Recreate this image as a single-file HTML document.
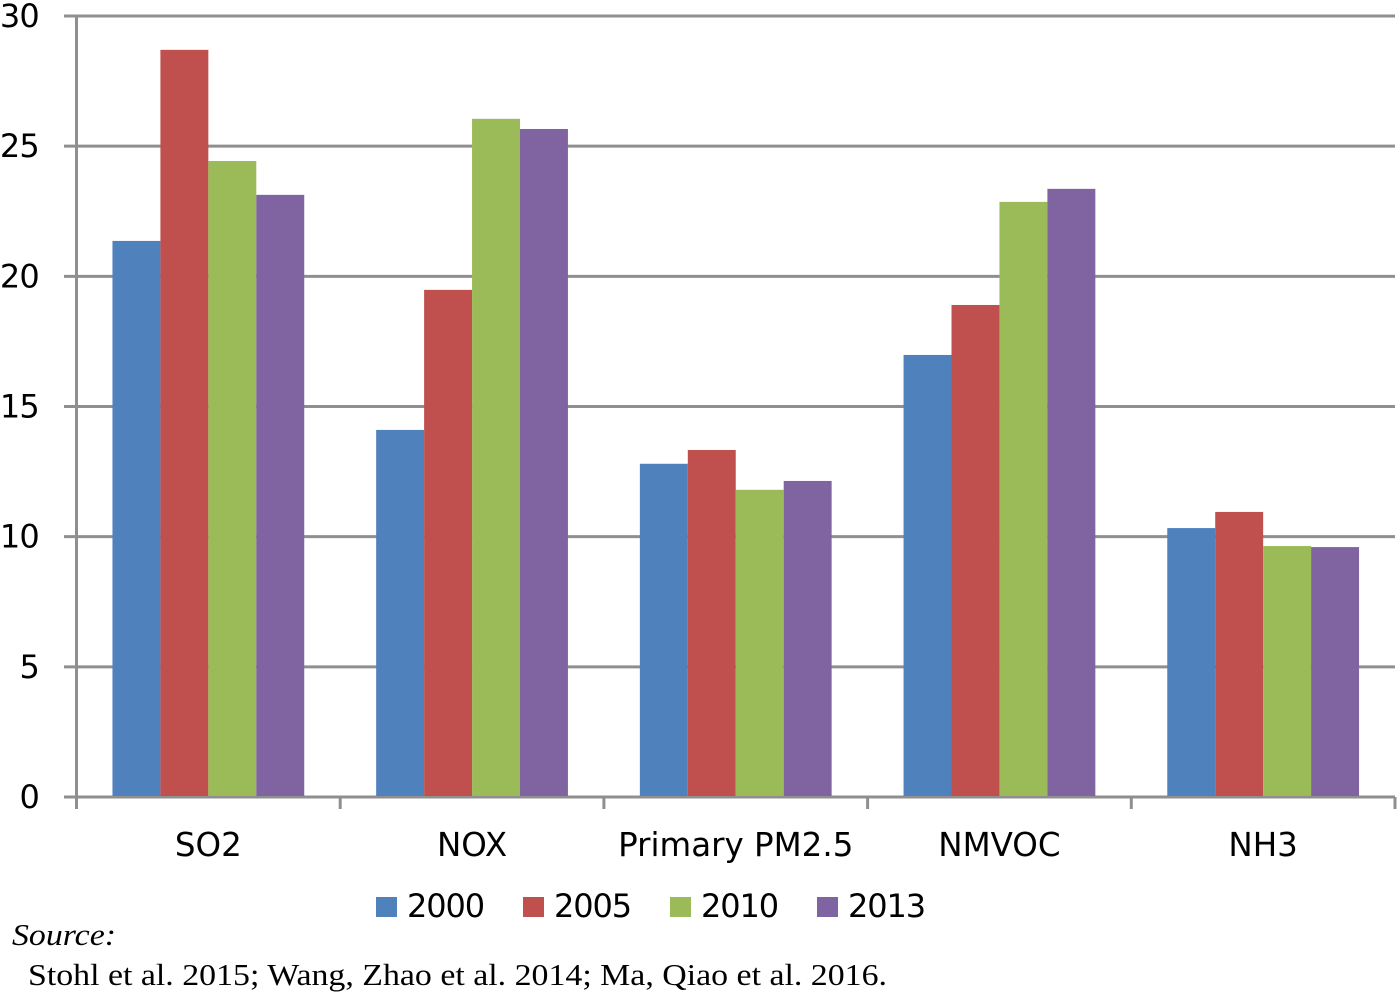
<!DOCTYPE html>
<html lang="en">
<head>
<meta charset="utf-8">
<title>Emissions by pollutant</title>
<style>
html,body{margin:0;padding:0;background:#fff;width:1400px;height:996px;overflow:hidden}
svg{display:block;position:absolute;left:0;top:0}
text{font-family:"DejaVu Sans","Liberation Sans",sans-serif;fill:#000}
.src{font-family:"Liberation Serif",serif;font-size:31px}
</style>
</head>
<body>
<svg id="chart" width="1400" height="996" viewBox="0 0 1400 996" xmlns="http://www.w3.org/2000/svg">
  <text class="src" x="12" y="945" font-style="italic" textLength="104" lengthAdjust="spacingAndGlyphs" style="font-family:'Liberation Serif',serif">Source:</text>
  <text class="src" x="28" y="985" textLength="859" lengthAdjust="spacingAndGlyphs" style="font-family:'Liberation Serif',serif">Stohl et al. 2015; Wang, Zhao et al. 2014; Ma, Qiao et al. 2016.</text>
</svg>
<script>
var categories = ["SO2", "NOX", "Primary PM2.5", "NMVOC", "NH3"];
var seriesNames = ["2000", "2005", "2010", "2013"];
var values2000 = [21.36, 14.1, 12.8, 16.98, 10.33];
var values2005 = [28.7, 19.48, 13.33, 18.9, 10.95];
var values2010 = [24.43, 26.05, 11.8, 22.86, 9.64];
var values2013 = [23.13, 25.66, 12.14, 23.36, 9.6];
var yTicks = [0, 5, 10, 15, 20, 25, 30];

var seriesValues = [values2000, values2005, values2010, values2013];
var colors = ["#4f81bd", "#c0504d", "#9bbb59", "#8064a2"];
var svg = document.getElementById("chart");
var NS = "http://www.w3.org/2000/svg";
var plotLeft = 76.5, plotRight = 1395, plotTop = 16, plotBottom = 797;
var yMax = yTicks[yTicks.length - 1];

function yScale(v) { return plotBottom - (v / yMax) * (plotBottom - plotTop); }
function catStart(i) { return plotLeft + i * (plotRight - plotLeft) / categories.length; }
function catWidth() { return (plotRight - plotLeft) / categories.length; }
function barWidth() { return catWidth() / (seriesNames.length + 1.5); }
function barX(c, s) { return catStart(c) + barWidth() * 0.75 + s * barWidth(); }

function make(tag, attrs, parent) {
  var el = document.createElementNS(NS, tag);
  for (var k in attrs) el.setAttribute(k, attrs[k]);
  (parent || svg).appendChild(el);
  return el;
}
var grey = "#8f8f8f";

yTicks.forEach(function (t) {
  var line = make("line", {x1: 64, x2: plotRight, y1: yScale(t), y2: yScale(t), stroke: grey, "stroke-width": 3});
  
  
  var label = make("text", {x: 39, y: yScale(t) + 11, "text-anchor": "end", "font-size": 32, "letter-spacing": -0.8});
  label.textContent = String(t);
  
  
});

var yAxis = make("line", {x1: plotLeft, x2: plotLeft, y1: plotTop, y2: plotBottom + 12, stroke: grey, "stroke-width": 3});



for (var i = 1; i <= categories.length; i++) {
  var tick = make("line", {x1: catStart(i), x2: catStart(i), y1: plotBottom, y2: plotBottom + 12, stroke: grey, "stroke-width": 3});
  
  
}

categories.forEach(function (cat, c) {
  seriesValues.forEach(function (vals, s) {
    var bar = make("rect", {x: barX(c, s), y: yScale(vals[c]), width: barWidth(), height: plotBottom - 1 - yScale(vals[c]), fill: colors[s]});
    
    
  });
  var label = make("text", {x: catStart(c) + catWidth() / 2, y: 856, "text-anchor": "middle", "font-size": 32.5});
  label.textContent = cat;
  
  
});

var legendX = [376, 523, 670, 817];
seriesNames.forEach(function (name, s) {
  var swatch = make("rect", {x: legendX[s], y: 897, width: 21, height: 20, fill: colors[s]});
  
  
  var label = make("text", {x: legendX[s] + 31, y: 917, "font-size": 32, "letter-spacing": -1.1});
  label.textContent = name;
  
  
});
</script>
</body>
</html>
